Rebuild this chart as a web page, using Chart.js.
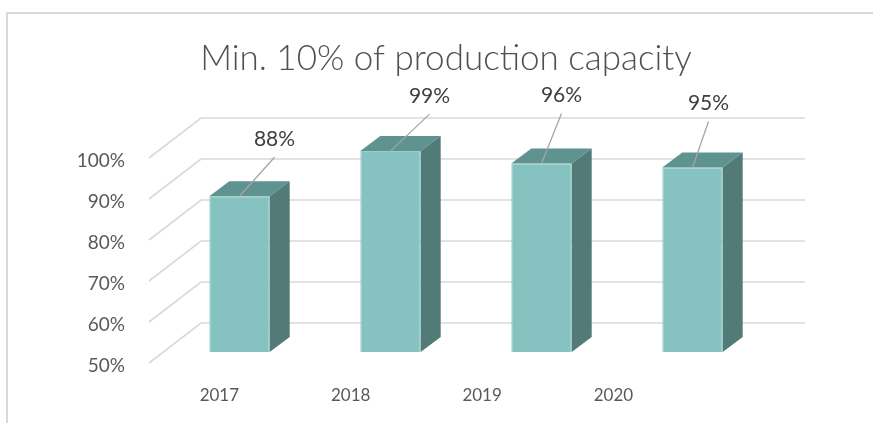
<!DOCTYPE html>
<html>
<head>
<meta charset="utf-8">
<script src="https://cdn.jsdelivr.net/npm/chart.js@4.4.1/dist/chart.umd.min.js"></script>
<style>
  html, body { margin: 0; padding: 0; background: #fff; }
  #wrap { position: relative; width: 873px; height: 423px; overflow: hidden; }
  #marco { position: absolute; left: 6px; top: 12px; width: 900px; height: 500px;
           border-top: 2px solid #d9d9d9; border-left: 2px solid #d9d9d9; }
  canvas { position: absolute; left: 0; top: 0; }
</style>
</head>
<body>
<div id="wrap">
  <div id="marco"></div>
  <canvas id="grafico" width="873" height="423"></canvas>
</div>
<script>
// Datos del gráfico
const titulo = 'Min. 10% of production capacity';
const anios = ['2017', '2018', '2019', '2020'];
const valores = [88, 99, 96, 95];            // % de capacidad
const marcasEje = [50, 60, 70, 80, 90, 100];  // etiquetas del eje Y

// Desplazamientos de las etiquetas de datos respecto a la cara superior (solo posición)
const desplEtiqueta = [[35, -39], [39, -37], [20, -50], [16, -46]];

// Colores de las caras
const colorFrente = '#85c2c0';
const colorTecho = '#5f9390';
const colorLado = '#527b78';
const colorRejilla = '#d9d9d9';
const colorTexto = '#595959';

// Profundidad de la barra y de la pared del fondo
const prof = { dx: 20, dy: -15 };
const pared = { dx: 37, dy: -29 };
const suelo = { dx: -52, dy: 40 };

const efecto3D = {
  id: 'efecto3D',
  beforeDatasetsDraw(chart) {
    const ctx = chart.ctx;
    const area = chart.chartArea;
    const y = chart.scales.y;
    ctx.save();
    // Título (centrado sobre la pared, no sobre el área)
    ctx.fillStyle = '#505050';
    ctx.font = '300 35px Lato';
    ctx.textAlign = 'center';
    ctx.textBaseline = 'middle';
    ctx.fillText(titulo, 446, 59);

    ctx.strokeStyle = colorRejilla;
    ctx.lineWidth = 1.6;
    marcasEje.forEach(function (v) {
      const py = y.getPixelForValue(v) + pared.dy;
      const px = area.left + pared.dx;
      ctx.beginPath();
      ctx.moveTo(px + suelo.dx, py + suelo.dy);
      ctx.lineTo(px, py);
      ctx.lineTo(area.right + pared.dx, py);
      ctx.stroke();
    });
    // Etiquetas del eje Y
    ctx.fillStyle = colorTexto;
    ctx.font = '19px Lato';
    ctx.textAlign = 'right';
    marcasEje.forEach(function (v) {
      ctx.fillText(v + '%', 125, y.getPixelForValue(v) + 14);
    });
    ctx.restore();
  },
  afterDatasetsDraw(chart) {
    const ctx = chart.ctx;
    const meta = chart.getDatasetMeta(0);
    const base = chart.scales.y.getPixelForValue(marcasEje[0]);
    ctx.save();
    meta.data.forEach(function (barra, i) {
      const w = barra.width;
      const izq = barra.x - w / 2;
      const der = barra.x + w / 2;
      // techo
      ctx.fillStyle = colorTecho;
      ctx.beginPath();
      ctx.moveTo(izq, barra.y);
      ctx.lineTo(der, barra.y);
      ctx.lineTo(der + prof.dx, barra.y + prof.dy);
      ctx.lineTo(izq + prof.dx, barra.y + prof.dy);
      ctx.closePath();
      ctx.fill();
      // lado
      ctx.fillStyle = colorLado;
      ctx.beginPath();
      ctx.moveTo(der, barra.y);
      ctx.lineTo(der + prof.dx, barra.y + prof.dy);
      ctx.lineTo(der + prof.dx, base + prof.dy);
      ctx.lineTo(der, base);
      ctx.closePath();
      ctx.fill();
      // línea guía y etiqueta
      const d = desplEtiqueta[i];
      ctx.strokeStyle = '#a6a6a6';
      ctx.lineWidth = 1.3;
      ctx.beginPath();
      ctx.moveTo(barra.x, barra.y);
      ctx.lineTo(barra.x + d[0], barra.y + d[1]);
      ctx.stroke();
      ctx.fillStyle = '#404040';
      ctx.font = '21px Lato';
      ctx.textAlign = 'center';
      ctx.textBaseline = 'middle';
      ctx.fillText(valores[i] + '%', barra.x + d[0], barra.y + d[1] - 18);
      // año en el borde delantero del suelo (perspectiva)
      ctx.fillStyle = colorTexto;
      ctx.font = '17px Lato';
      ctx.fillText(anios[i], 11 + barra.x * 0.87, 396);
    });
    ctx.restore();
  }
};

const ctx = document.getElementById('grafico').getContext('2d');
new Chart(ctx, {
  type: 'bar',
  data: {
    labels: anios,
    datasets: [{
      data: valores,
      backgroundColor: colorFrente,
      borderColor: '#8fcfcc',
      borderWidth: 1,
      barPercentage: 0.4,
      categoryPercentage: 1
    }]
  },
  options: {
    responsive: false,
    animation: false,
    layout: { padding: { left: 164, right: 105, top: 147, bottom: 71 } },
    plugins: {
      legend: { display: false },
      tooltip: { enabled: false },
      title: { display: false }
    },
    scales: {
      x: { display: false },
      y: { display: false, min: 50, max: 100 }
    }
  },
  plugins: [efecto3D]
});
</script>
</body>
</html>
